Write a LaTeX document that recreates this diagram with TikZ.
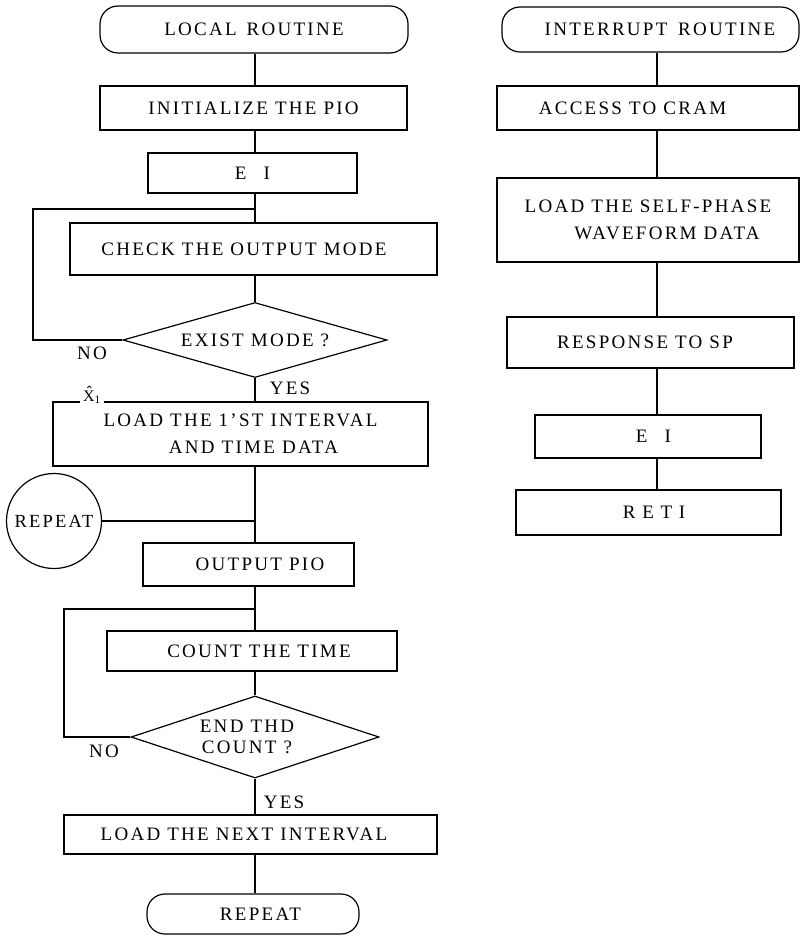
\documentclass[tikz,border=0pt]{standalone}
\usepackage{fontspec}
\setmainfont{Liberation Serif}[LetterSpace=12]
\usetikzlibrary{shapes.geometric,calc}
\begin{document}
\begin{tikzpicture}[x=1pt,y=-1pt, line width=1.2pt,
  every node/.style={font=\fontsize{19}{27}\selectfont},
  term/.style={draw, rectangle, rounded corners=18pt, inner sep=0pt},
  proc/.style={draw, rectangle, inner sep=0pt, align=center},
  dec/.style={draw, diamond, shape aspect=3, inner sep=0pt, align=center},
  conn/.style={draw, circle, inner sep=0pt, minimum size=95pt},
  lbl/.style={inner sep=1pt}]
\useasboundingbox (0,0) rectangle (800,936);
% left column
\node[term, minimum width=308pt, minimum height=47pt] (lr) at (254,29.5) {LOCAL\hspace{0.15em} ROUTINE};
\node[proc, minimum width=307pt, minimum height=44pt] (init) at (253.5,108) {INITIALIZE THE PIO};
\node[proc, minimum width=209pt, minimum height=40pt] (ei) at (252.5,173) {E\hspace{0.9em}I};
\node[proc, minimum width=367pt, minimum height=52pt] (check) at (253.5,249) {CHECK THE OUTPUT MODE\hspace*{19pt}};
\node[dec, minimum width=264pt, minimum height=75pt] (exist) at (255,340) {EXIST MODE ?};
\node[proc, minimum width=375pt, minimum height=64pt] (load1) at (240.5,434) {LOAD THE 1'ST INTERVAL\\\hspace*{26pt}AND TIME DATA};
\node[conn, font=\fontsize{18.5}{22}\selectfont] (repeatc) at (54,521) {REPEAT};
\node[proc, minimum width=211pt, minimum height=43pt] (outpio) at (248.5,564.5) {\hspace*{23pt}OUTPUT PIO};
\node[proc, minimum width=290pt, minimum height=40pt] (count) at (252,651) {\hspace*{14pt}COUNT THE TIME};
\node[dec, minimum width=248pt, minimum height=82pt] (endc) at (255,737) {END THD\hspace*{16pt}\\[-6pt]COUNT ?\hspace*{16pt}};
\node[proc, minimum width=373pt, minimum height=39pt] (next) at (250.5,834.5) {LOAD THE NEXT INTERVAL\hspace*{13pt}};
\node[term, minimum width=212pt, minimum height=40pt] (rep) at (253,914) {\hspace*{15pt}REPEAT};
% labels
\node[lbl] (no1) at (92,353) {NO};
\node[lbl] (yes1) at (290,388) {YES};
\node[lbl] (no2) at (104,751) {NO};
\node[lbl] (yes2) at (284,802) {YES};
\node[fill=white, inner xsep=3pt, inner ysep=1pt, anchor=base, font=\fontsize{16}{18}\selectfont] (x1) at (92,401) {\^{X}\textsubscript{1}};
% right column
\node[term, minimum width=297pt, minimum height=45pt] (ir) at (650.5,29.5) {\hspace*{19pt}INTERRUPT\hspace{0.2em} ROUTINE};
\node[proc, minimum width=302pt, minimum height=44pt] (acc) at (648,108) {ACCESS TO CRAM\hspace*{31pt}};
\node[proc, minimum width=302pt, minimum height=84pt] (selfp) at (648,220) {LOAD THE SELF-PHASE\\\hspace*{38pt}WAVEFORM DATA};
\node[proc, minimum width=287pt, minimum height=51pt] (resp) at (650.5,342.5) {RESPONSE TO SP\hspace*{11pt}};
\node[proc, minimum width=226pt, minimum height=43pt] (ei2) at (648,436.5) {\hspace*{11pt}E\hspace{0.9em}I};
\node[proc, minimum width=265pt, minimum height=45pt] (reti) at (648.5,512.5) {\hspace*{11pt}R\hspace{0.35em}E\hspace{0.35em}T\hspace{0.35em}I};
% connectors
\coordinate (L) at (255,0);
\coordinate (R) at (657,0);
\draw (L |- lr.south) -- (L |- init.north);
\draw (L |- init.south) -- (L |- ei.north);
\draw (L |- ei.south) -- (L |- check.north);
\draw (L |- check.south) -- (exist.north);
\draw (exist.south) -- (L |- load1.north);
\draw (L |- load1.south) -- (L |- outpio.north);
\draw (repeatc.east) -- (L |- repeatc.east);
\draw (L |- outpio.south) -- (L |- count.north);
\draw (L |- count.south) -- (endc.north);
\draw (endc.south) -- (L |- next.north);
\draw (L |- next.south) -- (L |- rep.north);
\coordinate (k1) at (33,209);
\draw (exist.west) -| (k1) -- (L |- k1);
\coordinate (k2) at (64,609);
\draw (endc.west) -| (k2) -- (L |- k2);
\draw (R |- ir.south) -- (R |- acc.north);
\draw (R |- acc.south) -- (R |- selfp.north);
\draw (R |- selfp.south) -- (R |- resp.north);
\draw (R |- resp.south) -- (R |- ei2.north);
\draw (R |- ei2.south) -- (R |- reti.north);
\end{tikzpicture}
\end{document}
